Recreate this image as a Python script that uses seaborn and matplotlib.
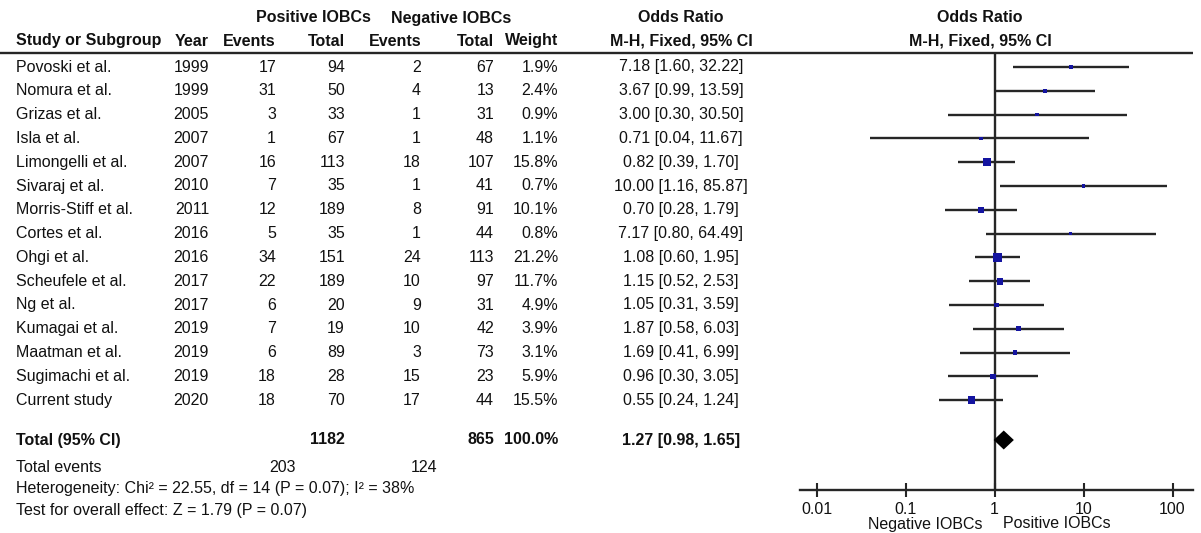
import numpy as np
import pandas as pd
import matplotlib
matplotlib.use("Agg")
import matplotlib.pyplot as plt
import seaborn as sns

# ---------------- data ----------------
studies = ["Povoski et al.", "Nomura et al.", "Grizas et al.", "Isla et al.",
           "Limongelli et al.", "Sivaraj et al.", "Morris-Stiff et al.", "Cortes et al.",
           "Ohgi et al.", "Scheufele et al.", "Ng et al.", "Kumagai et al.",
           "Maatman et al.", "Sugimachi et al.", "Current study"]
years = [1999, 1999, 2005, 2007, 2007, 2010, 2011, 2016, 2016, 2017, 2017, 2019, 2019, 2019, 2020]
pos_events = [17, 31, 3, 1, 16, 7, 12, 5, 34, 22, 6, 7, 6, 18, 18]
pos_total = [94, 50, 33, 67, 113, 35, 189, 35, 151, 189, 20, 19, 89, 28, 70]
neg_events = [2, 4, 1, 1, 18, 1, 8, 1, 24, 10, 9, 10, 3, 15, 17]
neg_total = [67, 13, 31, 48, 107, 41, 91, 44, 113, 97, 31, 42, 73, 23, 44]
weights = [1.9, 2.4, 0.9, 1.1, 15.8, 0.7, 10.1, 0.8, 21.2, 11.7, 4.9, 3.9, 3.1, 5.9, 15.5]
odds = [7.18, 3.67, 3.00, 0.71, 0.82, 10.00, 0.70, 7.17, 1.08, 1.15, 1.05, 1.87, 1.69, 0.96, 0.55]
ci_low = [1.60, 0.99, 0.30, 0.04, 0.39, 1.16, 0.28, 0.80, 0.60, 0.52, 0.31, 0.58, 0.41, 0.30, 0.24]
ci_high = [32.22, 13.59, 30.50, 11.67, 1.70, 85.87, 1.79, 64.49, 1.95, 2.53, 3.59, 6.03, 6.99, 3.05, 1.24]

total_or, total_lo, total_hi = 1.27, 0.98, 1.65
total_pos, total_neg = 1182, 865
events_pos, events_neg = 203, 124
total_weight = "100.0%"
het_text = "Heterogeneity: Chi\u00b2 = 22.55, df = 14 (P = 0.07); I\u00b2 = 38%"
effect_text = "Test for overall effect: Z = 1.79 (P = 0.07)"
axis_ticks = [0.01, 0.1, 1, 10, 100]
axis_ticklabels = ["0.01", "0.1", "1", "10", "100"]
favours = ["Negative IOBCs", "Positive IOBCs"]

# ---------------- style ----------------
sns.set_theme(style="white")
plt.rcParams["font.family"] = ["Liberation Sans", "DejaVu Sans"]
FS = 11.5
TXT = "#111111"
LINE = "#262626"
BLUE = "#1414a0"

W, H = 1201, 533
fig = plt.figure(figsize=(W / 100, H / 100), dpi=100)
fig.patch.set_facecolor("white")

# text layer in pixel coordinates
at = fig.add_axes([0, 0, 1, 1])
at.set_xlim(0, W)
at.set_ylim(H, 0)
at.axis("off")

ROW0, DY = 67, 23.8
row_y = [ROW0 + i * DY for i in range(len(studies))]
TOTAL_Y = 440

# headers
at.text(313, 18, "Positive IOBCs", ha="center", va="center", fontsize=FS, fontweight="bold", color=TXT)
at.text(451, 18, "Negative IOBCs", ha="center", va="center", fontsize=FS, fontweight="bold", color=TXT)
at.text(681, 18, "Odds Ratio", ha="center", va="center", fontsize=FS, fontweight="bold", color=TXT)
at.text(980, 18, "Odds Ratio", ha="center", va="center", fontsize=FS, fontweight="bold", color=TXT)
HY = 41
at.text(16, HY, "Study or Subgroup", ha="left", va="center", fontsize=FS, fontweight="bold", color=TXT)
for xr, lab in [(209, "Year"), (276, "Events"), (345, "Total"), (421, "Events"),
                (494, "Total"), (558, "Weight")]:
    at.text(xr, HY, lab, ha="right", va="center", fontsize=FS, fontweight="bold", color=TXT)
at.text(681, HY, "M-H, Fixed, 95% CI", ha="center", va="center", fontsize=FS, fontweight="bold", color=TXT)
at.text(980, HY, "M-H, Fixed, 95% CI", ha="center", va="center", fontsize=FS, fontweight="bold", color=TXT)
at.plot([0, 1193], [52.5, 52.5], color=LINE, lw=1.7, solid_capstyle="butt")

# study rows
for i, y in enumerate(row_y):
    at.text(16, y, studies[i], ha="left", va="center", fontsize=FS, color=TXT)
    at.text(209, y, str(years[i]), ha="right", va="center", fontsize=FS, color=TXT)
    at.text(276, y, str(pos_events[i]), ha="right", va="center", fontsize=FS, color=TXT)
    at.text(345, y, str(pos_total[i]), ha="right", va="center", fontsize=FS, color=TXT)
    at.text(421, y, str(neg_events[i]), ha="right", va="center", fontsize=FS, color=TXT)
    at.text(494, y, str(neg_total[i]), ha="right", va="center", fontsize=FS, color=TXT)
    at.text(558, y, f"{weights[i]:.1f}%", ha="right", va="center", fontsize=FS, color=TXT)
    at.text(681, y, f"{odds[i]:.2f} [{ci_low[i]:.2f}, {ci_high[i]:.2f}]",
            ha="center", va="center", fontsize=FS, color=TXT)

# totals
at.text(16, TOTAL_Y, "Total (95% CI)", ha="left", va="center", fontsize=FS, fontweight="bold", color=TXT)
at.text(345, TOTAL_Y, str(total_pos), ha="right", va="center", fontsize=FS, fontweight="bold", color=TXT)
at.text(494, TOTAL_Y, str(total_neg), ha="right", va="center", fontsize=FS, fontweight="bold", color=TXT)
at.text(558, TOTAL_Y, total_weight, ha="right", va="center", fontsize=FS, fontweight="bold", color=TXT)
at.text(681, TOTAL_Y, f"{total_or:.2f} [{total_lo:.2f}, {total_hi:.2f}]",
        ha="center", va="center", fontsize=FS, fontweight="bold", color=TXT)
at.text(16, 468, "Total events", ha="left", va="center", fontsize=FS, color=TXT)
at.text(296, 468, str(events_pos), ha="right", va="center", fontsize=FS, color=TXT)
at.text(437, 468, str(events_neg), ha="right", va="center", fontsize=FS, color=TXT)
at.text(16, 489, het_text, ha="left", va="center", fontsize=FS, color=TXT)
at.text(16, 511, effect_text, ha="left", va="center", fontsize=FS, color=TXT)

# favours labels
at.text(982, 524, favours[0], ha="right", va="center", fontsize=FS, color=TXT)
at.text(1003, 524, favours[1], ha="left", va="center", fontsize=FS, color=TXT)

# ---------------- forest axes ----------------
X0, X1 = 800, 1193
Y_TOP, Y_AX = 52.5, 490
PX_ONE, PX_DEC = 994.5, 89.0
ax = fig.add_axes([X0 / W, 1 - Y_AX / H, (X1 - X0) / W, (Y_AX - Y_TOP) / H])
ax.set_facecolor("none")
ax.set_xscale("log")
ax.set_xlim(10 ** ((X0 - PX_ONE) / PX_DEC), 10 ** ((X1 - PX_ONE) / PX_DEC))
ax.set_ylim(Y_AX, Y_TOP)

df = pd.DataFrame({"study": studies, "or": odds, "lo": ci_low, "hi": ci_high,
                   "w": weights, "y": row_y})

ax.axvline(1, color=LINE, lw=1.7, zorder=1)
ax.hlines(df["y"], df["lo"], df["hi"], color=LINE, lw=1.7, zorder=2)
sns.scatterplot(data=df, x="or", y="y", size="w",
                sizes=(6, 38), size_norm=(min(weights), max(weights)),
                marker="s", color=BLUE, linewidth=0, legend=False, ax=ax, zorder=3)

# pooled diamond
dh = 9.5
ax.fill([total_lo, total_or, total_hi, total_or],
        [TOTAL_Y, TOTAL_Y - dh, TOTAL_Y, TOTAL_Y + dh], color="black", zorder=4, lw=0)

for s in ["top", "right", "left"]:
    ax.spines[s].set_visible(False)
ax.spines["bottom"].set_color(LINE)
ax.spines["bottom"].set_linewidth(1.7)
ax.set_xticks(axis_ticks)
ax.set_xticklabels(axis_ticklabels)
ax.xaxis.set_minor_locator(matplotlib.ticker.NullLocator())
ax.set_yticks([])
ax.tick_params(axis="x", direction="inout", length=10, width=1.5, color=LINE,
               labelsize=FS, labelcolor=TXT, pad=4, bottom=True)
ax.set_xlabel("")
ax.set_ylabel("")

fig.savefig("out.png", dpi=100, facecolor="white")
